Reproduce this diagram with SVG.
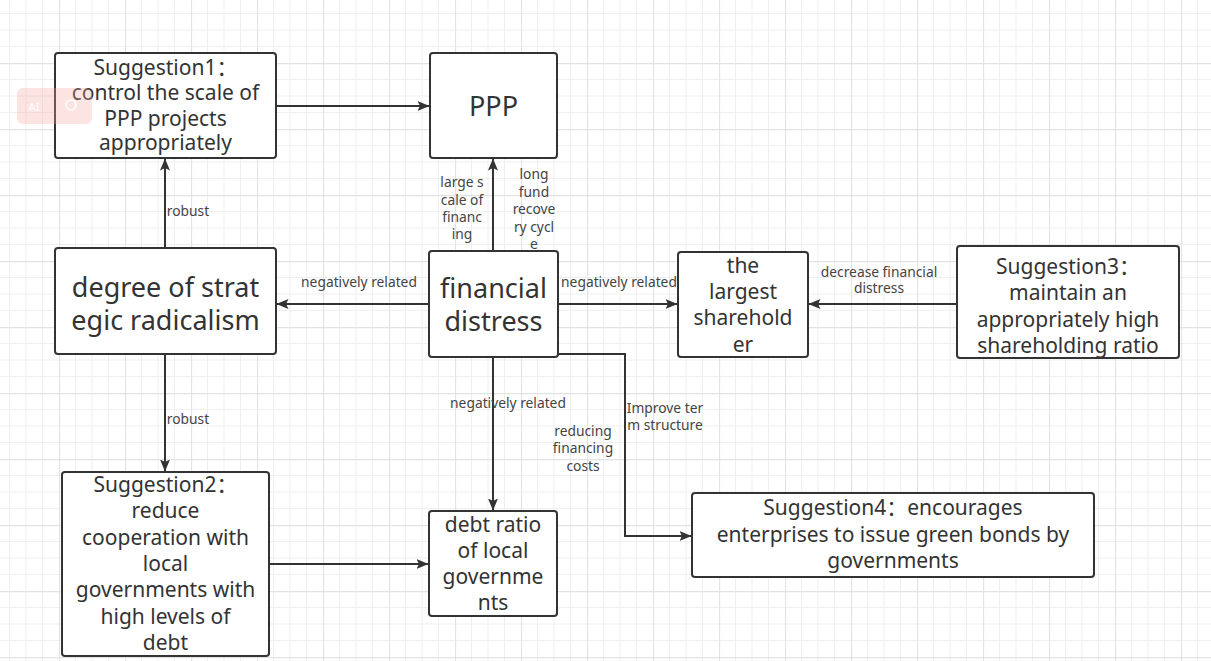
<svg xmlns="http://www.w3.org/2000/svg" width="1211" height="661" viewBox="0 0 1211 661">
<defs>
<pattern id="grid" x="59" y="63" width="66" height="66" patternUnits="userSpaceOnUse">
<path d="M16.5 0V66M33 0V66M49.5 0V66M0 16.5H66M0 33H66M0 49.5H66" stroke="#efefef" stroke-width="1" fill="none"/>
<path d="M0.5 0V66M0 0.5H66" stroke="#e3e3e3" stroke-width="1.3" fill="none"/>
</pattern>
<marker id="arr" viewBox="0 0 12 10" refX="11.5" refY="5" markerWidth="12" markerHeight="10" markerUnits="userSpaceOnUse" orient="auto">
<path d="M0 0L12 5L0 10L2.5 5Z" fill="#333"/>
</marker>
<style>
.box{fill:#fff;stroke:#333;stroke-width:2}
.t{font-family:"Noto Sans","Noto Sans CJK SC",sans-serif;font-size:21px;fill:#333;text-anchor:middle}
.big{font-size:27px}
.lb{font-family:"Noto Sans","Noto Sans CJK SC",sans-serif;font-size:13.8px;fill:#444;text-anchor:middle}
.c{fill:none;stroke:#333;stroke-width:2;marker-end:url(#arr)}
</style>
</defs>
<rect width="1211" height="661" fill="#fff"/>
<rect width="1211" height="661" fill="url(#grid)"/>

<g id="connectors">
<path class="c" d="M276 106H429"/>
<path class="c" d="M165 248V159"/>
<path class="c" d="M165 354V471"/>
<path class="c" d="M493 251V159"/>
<path class="c" d="M429 304H277"/>
<path class="c" d="M558 304H677"/>
<path class="c" d="M957 304H809"/>
<path class="c" d="M493 357V510"/>
<path class="c" d="M269 564H428"/>
<path class="c" d="M558 354H625V536H691"/>
<text class="lb" x="188" y="216">robust</text>
<text class="lb" x="188" y="424">robust</text>
<text class="lb" x="359" y="287">negatively related</text>
<text class="lb" x="619" y="287">negatively related</text>
<text class="lb" x="879" y="277">decrease financial</text>
<text class="lb" x="879" y="293">distress</text>
<text class="lb" x="508" y="408">negatively related</text>
<text class="lb" x="583" y="436">reducing</text>
<text class="lb" x="583" y="453">financing</text>
<text class="lb" x="583" y="471">costs</text>
<text class="lb" x="665" y="413">Improve ter</text>
<text class="lb" x="665" y="430">m structure</text>
<text class="lb" x="462" y="187">large s</text>
<text class="lb" x="462" y="205">cale of</text>
<text class="lb" x="462" y="222">financ</text>
<text class="lb" x="462" y="239">ing</text>
<text class="lb" x="534" y="179">long</text>
<text class="lb" x="534" y="196.5">fund</text>
<text class="lb" x="534" y="214">recove</text>
<text class="lb" x="534" y="231.5">ry cycl</text>
<text class="lb" x="534" y="249">e</text>
</g>

<g id="suggestion1">
<rect class="box" x="55" y="53" width="221" height="105" rx="3"/>
<text class="t" x="165.5" y="75">Suggestion1：</text>
<text class="t" x="165.5" y="100">control the scale of</text>
<text class="t" x="165.5" y="126">PPP projects</text>
<text class="t" x="165.5" y="150">appropriately</text>
</g>

<g id="ppp">
<rect class="box" x="430" y="53" width="127" height="105" rx="3"/>
<text class="t big" x="493.5" y="116">PPP</text>
</g>

<g id="radicalism">
<rect class="box" x="55" y="248" width="221" height="106" rx="3"/>
<text class="t big" x="165.5" y="297">degree of strat</text>
<text class="t big" x="165.5" y="330">egic radicalism</text>
</g>

<g id="financial-distress">
<rect class="box" x="429" y="251" width="129" height="106" rx="3"/>
<text class="t big" x="493.5" y="298">financial</text>
<text class="t big" x="493.5" y="331">distress</text>
</g>

<g id="shareholder">
<rect class="box" x="678" y="252" width="130" height="105" rx="3"/>
<text class="t" x="743" y="273">the</text>
<text class="t" x="743" y="299">largest</text>
<text class="t" x="743" y="325">sharehold</text>
<text class="t" x="743" y="352">er</text>
</g>

<g id="suggestion3">
<rect class="box" x="957" y="246" width="222" height="112" rx="3"/>
<text class="t" x="1068" y="274">Suggestion3：</text>
<text class="t" x="1068" y="300">maintain an</text>
<text class="t" x="1068" y="327">appropriately high</text>
<text class="t" x="1068" y="353">shareholding ratio</text>
</g>

<g id="suggestion2">
<rect class="box" x="62" y="472" width="207" height="184" rx="3"/>
<text class="t" x="165.5" y="492">Suggestion2：</text>
<text class="t" x="165.5" y="518">reduce</text>
<text class="t" x="165.5" y="545">cooperation with</text>
<text class="t" x="165.5" y="571">local</text>
<text class="t" x="165.5" y="597">governments with</text>
<text class="t" x="165.5" y="624">high levels of</text>
<text class="t" x="165.5" y="650">debt</text>
</g>

<g id="debt-ratio">
<rect class="box" x="429" y="511" width="128" height="105" rx="3"/>
<text class="t" x="493" y="532">debt ratio</text>
<text class="t" x="493" y="558">of local</text>
<text class="t" x="493" y="584">governme</text>
<text class="t" x="493" y="610">nts</text>
</g>

<g id="suggestion4">
<rect class="box" x="692" y="493" width="402" height="84" rx="3"/>
<text class="t" x="893" y="515">Suggestion4：encourages</text>
<text class="t" x="893" y="542">enterprises to issue green bonds by</text>
<text class="t" x="893" y="568">governments</text>
</g>

<g id="ai-badge" opacity="0.3">
<rect x="17" y="88" width="75" height="36" rx="6" fill="#f7a8a0"/>
<text x="34" y="111" font-family="Noto Sans, sans-serif" font-size="11" fill="#fff" text-anchor="middle">AI</text>
<circle cx="71" cy="105" r="5" fill="none" stroke="#fff" stroke-width="1.5"/>
</g>
</svg>
